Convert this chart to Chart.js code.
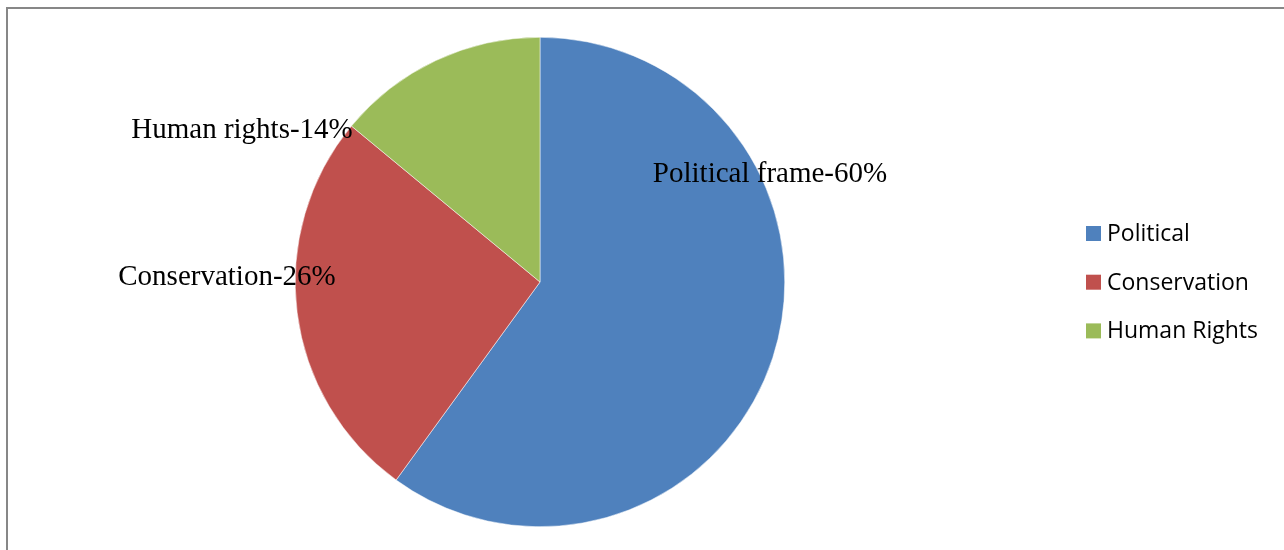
<!DOCTYPE html>
<html>
<head>
<meta charset="utf-8">
<title>Frames</title>
<script src="https://cdn.jsdelivr.net/npm/chart.js@4/dist/chart.umd.min.js"></script>
<style>
  html, body { margin: 0; padding: 0; background: #fff; }
  #wrap { position: relative; width: 1284px; height: 550px; }
</style>
</head>
<body>
<div id="wrap"><canvas id="pieChart" width="1284" height="550"></canvas></div>
<script>
// ===== data =====
const categories = ["Political", "Conservation", "Human Rights"];
const shares = [60, 26, 14];
const sliceLabels = ["Political frame-60%", "Conservation-26%", "Human rights-14%"];
const sliceColors = ["#4F81BD", "#C0504D", "#9BBB59"];

// where each slice label sits, relative to the pie centre
const labelOffsets = [[230, -108], [-313, -5], [-298, -152]];

// outer frame (left + top edges only are inside the view)
const framePlugin = {
  id: "frame",
  beforeDraw(chart) {
    const ctx = chart.ctx;
    ctx.save();
    ctx.strokeStyle = "#878787";
    ctx.lineWidth = 2;
    ctx.beginPath();
    ctx.moveTo(7, chart.height + 5);
    ctx.lineTo(7, 8);
    ctx.lineTo(chart.width + 5, 8);
    ctx.stroke();
    ctx.restore();
  }
};

// slice text labels
const sliceLabelPlugin = {
  id: "sliceLabels",
  afterDatasetsDraw(chart) {
    const ctx = chart.ctx;
    const arcs = chart.getDatasetMeta(0).data;
    ctx.save();
    ctx.font = "29px 'Liberation Serif', 'Times New Roman', serif";
    ctx.fillStyle = "#000";
    ctx.textAlign = "center";
    ctx.textBaseline = "middle";
    arcs.forEach((arc, i) => {
      const [dx, dy] = labelOffsets[i];
      ctx.fillText(sliceLabels[i], arc.x + dx, arc.y + dy);
    });
    ctx.restore();
  }
};

// legend on the right
const sideLegendPlugin = {
  id: "sideLegend",
  afterDraw(chart) {
    const ctx = chart.ctx;
    const colors = chart.data.datasets[0].backgroundColor;
    ctx.save();
    ctx.font = "23px 'Open Sans', 'Noto Sans', sans-serif";
    ctx.textBaseline = "middle";
    chart.data.labels.forEach((name, i) => {
      const y = 233.5 + i * 48.7;
      ctx.fillStyle = colors[i];
      ctx.fillRect(1086, y - 7.5, 15, 15);
      ctx.fillStyle = "#000";
      ctx.fillText(name, 1107, y + 1);
    });
    ctx.restore();
  }
};

const ctx = document.getElementById("pieChart").getContext("2d");
const chart = new Chart(ctx, {
  type: "pie",
  data: {
    labels: categories,
    datasets: [{
      data: shares,
      backgroundColor: sliceColors,
      borderColor: "#ffffff",
      borderWidth: 0.5
    }]
  },
  options: {
    responsive: false,
    animation: false,
    layout: { padding: { left: 295, right: 499, top: 37, bottom: 23 } },
    plugins: {
      legend: { display: false },
      tooltip: { enabled: false }
    }
  },
  plugins: [framePlugin, sliceLabelPlugin, sideLegendPlugin]
});
</script>
</body>
</html>
